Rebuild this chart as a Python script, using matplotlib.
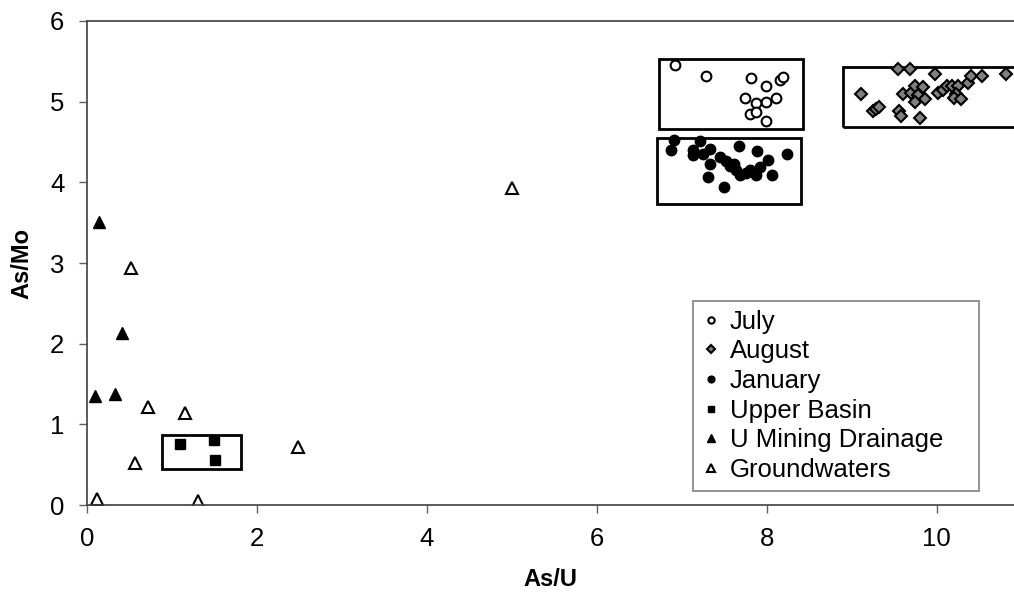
import matplotlib
matplotlib.use("Agg")
import matplotlib.pyplot as plt
from matplotlib.patches import Rectangle

plt.rcParams['font.family'] = ['Liberation Sans', 'DejaVu Sans']

# As/U, As/Mo ratios per sample group
july_x = [6.92, 7.29, 7.82, 7.99, 8.16, 8.19, 7.74, 8.11, 7.99, 7.87, 7.80, 7.87, 7.99]
july_y = [5.46, 5.32, 5.29, 5.20, 5.27, 5.30, 5.05, 5.05, 5.00, 4.98, 4.85, 4.87, 4.76]

aug_x = [9.11, 9.25, 9.29, 9.32, 9.56, 9.58, 9.55, 9.69, 9.80, 9.60, 9.70, 9.74, 9.78,
         9.84, 9.74, 9.86, 9.98, 10.02, 10.08, 10.12, 10.18, 10.25, 10.23, 10.20, 10.29,
         10.37, 10.40, 10.53, 10.82]
aug_y = [5.09, 4.88, 4.91, 4.94, 4.89, 4.82, 5.41, 5.41, 4.80, 5.09, 5.11, 5.20, 5.08,
         5.18, 4.99, 5.03, 5.34, 5.11, 5.15, 5.19, 5.19, 5.19, 5.10, 5.04, 5.03,
         5.23, 5.32, 5.32, 5.34]

jan_x = [6.91, 6.87, 7.22, 7.13, 7.13, 7.33, 7.25, 7.33, 7.45, 7.52, 7.68, 7.89, 8.24,
         8.02, 7.57, 7.64, 7.69, 7.80, 7.92, 7.88, 8.06, 7.31, 7.50, 7.61, 7.76]
jan_y = [4.53, 4.40, 4.51, 4.40, 4.34, 4.41, 4.35, 4.23, 4.32, 4.27, 4.45, 4.39, 4.35,
         4.28, 4.20, 4.15, 4.09, 4.15, 4.19, 4.09, 4.09, 4.07, 3.94, 4.23, 4.12]

upper_x = [1.10, 1.50, 1.51]
upper_y = [0.76, 0.81, 0.56]

mining_x = [0.15, 0.42, 0.10, 0.33]
mining_y = [3.51, 2.13, 1.35, 1.38]

ground_x = [0.52, 0.72, 1.16, 0.57, 0.12, 1.31, 2.49, 5.00]
ground_y = [2.94, 1.21, 1.14, 0.52, 0.07, 0.05, 0.72, 3.93]

# group boxes: (x0, x1, y0, y1)
boxes = [(6.73, 8.43, 4.66, 5.53),
         (6.71, 8.40, 3.73, 4.55),
         (8.90, 11.2, 4.68, 5.43),
         (0.89, 1.82, 0.45, 0.87)]

fig = plt.figure(figsize=(10.14, 5.98), dpi=100)
ax = fig.add_axes([0.0855, 0.1555, 0.9145, 0.8094])

ax.plot(july_x, july_y, 'o', ms=7, mfc='white', mec='black', mew=1.5, label='July')
ax.plot(aug_x, aug_y, 'D', ms=6.5, mfc='#808080', mec='black', mew=1.5, label='August')
ax.plot(jan_x, jan_y, 'o', ms=7.5, mfc='black', mec='black', label='January')
ax.plot(upper_x, upper_y, 's', ms=7.5, mfc='black', mec='black', label='Upper Basin')
ax.plot(mining_x, mining_y, '^', ms=9, mfc='black', mec='black', label='U Mining Drainage')
ax.plot(ground_x, ground_y, '^', ms=8, mfc='white', mec='black', mew=1.5, label='Groundwaters')

for x0, x1, y0, y1 in boxes:
    ax.add_patch(Rectangle((x0, y0), x1 - x0, y1 - y0, fill=False,
                           ec='black', lw=2, clip_on=True, zorder=1))

ax.set_xlim(0, 10.91)
ax.set_ylim(0, 6)
ax.set_xticks([0, 2, 4, 6, 8, 10])
ax.set_yticks(range(7))
ax.tick_params(labelsize=18.5, direction='out', length=6, width=1, color='#606060', pad=10)
for side in ['left', 'bottom', 'top']:
    ax.spines[side].set_color('#404040')
    ax.spines[side].set_linewidth(1.2)
ax.spines['right'].set_visible(False)

ax.set_xlabel('As/U', fontsize=17, fontweight='bold', labelpad=12)
ax.set_ylabel('As/Mo', fontsize=17, fontweight='bold', labelpad=12)

leg = ax.legend(loc='lower left', bbox_to_anchor=(0.6535, 0.029, 0.309, 0.397),
                mode='expand', borderaxespad=0, fontsize=18.5, markerscale=0.65,
                handlelength=0.7, handletextpad=0.4, labelspacing=0.22, borderpad=0.35,
                fancybox=False, framealpha=1, edgecolor='#808080')
leg.get_frame().set_linewidth(1.2)
leg._legend_box.align = 'left'
for vp in leg._legend_box.get_children()[1:]:
    vp.pad = 0
leg._legend_box.get_children()[1].set_offset if False else None
leg.set_bbox_to_anchor((0.6535, 0.029, 0.309, 0.397))

fig.savefig('out.png', dpi=100)
